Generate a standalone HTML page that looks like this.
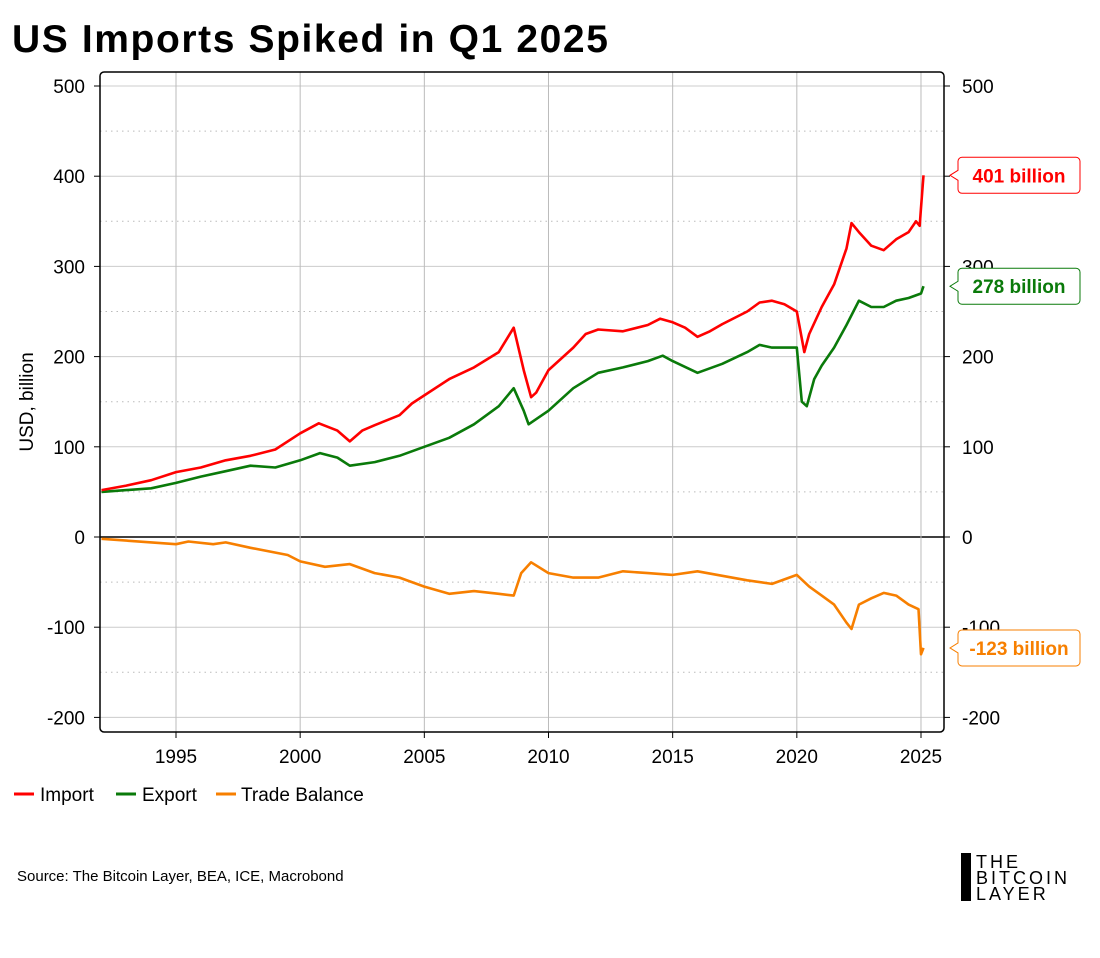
<!DOCTYPE html>
<html><head><meta charset="utf-8"><style>
body{margin:0;background:#fff;width:1100px;height:953px;overflow:hidden;font-family:"Liberation Sans",sans-serif}
svg text{font-family:"Liberation Sans",sans-serif}
</style></head><body>
<svg id="c" width="1100" height="953" xmlns="http://www.w3.org/2000/svg">
<text x="12" y="52" font-size="39" font-weight="bold" letter-spacing="1.6" fill="#000">US Imports Spiked in Q1 2025</text>
<g id="grid"></g>
<g id="series"></g>
<rect x="100" y="72" width="844" height="660" fill="none" stroke="#000" stroke-width="1.5" rx="4"/>
<g id="axes"></g>
<text transform="translate(33,402) rotate(-90)" text-anchor="middle" font-size="19" fill="#000">USD, billion</text>
<g font-size="19">
<g><line x1="14" y1="794" x2="34" y2="794" stroke="#f00" stroke-width="3"/><text x="40" y="801">Import</text></g>
<g><line x1="116" y1="794" x2="136" y2="794" stroke="#0a7a0a" stroke-width="3"/><text x="142" y="801">Export</text></g>
<g><line x1="216" y1="794" x2="236" y2="794" stroke="#f77f00" stroke-width="3"/><text x="241" y="801">Trade Balance</text></g>
</g>
<text x="17" y="881" font-size="15" fill="#000">Source: The Bitcoin Layer, BEA, ICE, Macrobond</text>
<g>
<rect x="961" y="853" width="10" height="48" fill="#000"/>
<text x="976" y="868" font-size="18" letter-spacing="3">THE</text>
<text x="976" y="884" font-size="18" letter-spacing="3">BITCOIN</text>
<text x="976" y="900" font-size="18" letter-spacing="3">LAYER</text>
</g>
</svg>
<script>
const impX=[1992,1993,1994,1995,1996,1997,1998,1999,2000,2000.75,2001.5,2002,2002.5,2003,2004,2004.5,2005,2006,2007,2008,2008.6,2009.0,2009.3,2009.5,2010,2011,2011.5,2012,2013,2014,2014.5,2015,2015.5,2016,2016.5,2017,2018,2018.5,2019,2019.5,2020.0,2020.3,2020.5,2021,2021.5,2022,2022.2,2022.5,2023,2023.5,2024,2024.5,2024.8,2024.95,2025.0,2025.1];
const impV=[52,57,63,72,77,85,90,97,115,126,118,106,118,124,135,148,157,175,188,205,232,185,155,160,185,210,225,230,228,235,242,238,232,222,228,236,250,260,262,258,250,205,225,255,280,320,348,338,323,318,330,338,350,345,365,401];
const expX=[1992,1994,1995,1996,1997,1998,1999,2000,2000.8,2001.5,2002,2003,2004,2005,2006,2007,2008,2008.6,2009.0,2009.2,2010,2011,2012,2013,2014,2014.6,2015,2016,2017,2018,2018.5,2019,2020,2020.2,2020.4,2020.7,2021,2021.5,2022,2022.5,2023,2023.5,2024,2024.5,2025.0,2025.1];
const expV=[50,54,60,67,73,79,77,85,93,88,79,83,90,100,110,125,145,165,140,125,140,165,182,188,195,201,195,182,192,205,213,210,210,150,145,175,190,210,235,262,255,255,262,265,270,278];
const balX=[1992,1995,1995.5,1996.5,1997,1998,1999.5,2000,2001,2002,2003,2004,2005,2006,2007,2008,2008.6,2008.9,2009.3,2010,2011,2012,2013,2014,2015,2016,2017,2018,2019,2020,2020.5,2021,2021.5,2022,2022.2,2022.5,2023,2023.5,2024,2024.5,2024.9,2025.0,2025.1];
const balV=[-2,-8,-5,-8,-6,-12,-20,-27,-33,-30,-40,-45,-55,-63,-60,-63,-65,-40,-28,-40,-45,-45,-38,-40,-42,-38,-43,-48,-52,-42,-55,-65,-75,-95,-102,-75,-68,-62,-65,-75,-80,-130,-123];
const yTicks=[500,400,300,200,100,0,-100,-200];
const xTicks=[1995,2000,2005,2010,2015,2020,2025];
const sx=t=>101.5+(t-1992)*24.833;
const sy=v=>537-v*0.902;
const NS="http://www.w3.org/2000/svg";
function mk(tag,attrs,parent,txt){const e=document.createElementNS(NS,tag);for(const k in attrs)e.setAttribute(k,attrs[k]);if(txt!==undefined)e.textContent=txt;parent.appendChild(e);return e;}
const grid=document.getElementById('grid'),axes=document.getElementById('axes'),ser=document.getElementById('series');
for(let v=-150;v<=450;v+=100){const l=mk('line',{x1:100,x2:944,y1:sy(v),y2:sy(v),stroke:'#bbb','stroke-dasharray':'1.5 4'},grid);

}
yTicks.forEach(v=>{const l=mk('line',{x1:100,x2:944,y1:sy(v),y2:sy(v),stroke:v===0?'#000':'#ccc','stroke-width':v===0?1.5:1},grid);


const a=mk('text',{x:85,y:sy(v)+7,'text-anchor':'end','font-size':19},axes,String(v));


const b=mk('text',{x:962,y:sy(v)+7,'font-size':19},axes,String(v));


mk('line',{x1:94,x2:100,y1:sy(v),y2:sy(v),stroke:'#000'},axes);
mk('line',{x1:944,x2:950,y1:sy(v),y2:sy(v),stroke:'#000'},axes);});
xTicks.forEach(t=>{const l=mk('line',{x1:sx(t),x2:sx(t),y1:72,y2:732,stroke:'#bbb'},grid);


mk('line',{x1:sx(t),x2:sx(t),y1:732,y2:738,stroke:'#000'},axes);
const a=mk('text',{x:sx(t),y:763,'text-anchor':'middle','font-size':19},axes,String(t));

});
function line(X,V,col,name){const d=X.map((t,i)=>(i?'L':'M')+sx(t).toFixed(1)+','+sy(V[i]).toFixed(1)).join('');
const p=mk('path',{d:d,fill:'none',stroke:col,'stroke-width':2.6,'stroke-linejoin':'round'},ser);

}
line(balX,balV,'#f77f00','trade-balance-line');
line(expX,expV,'#0a7a0a','export-line');
line(impX,impV,'#f00','import-line');
function callout(v,col,name){const y=sy(v);const g=mk('g',{},document.getElementById('c'));


mk('path',{d:`M962,${y-18}h114a4,4 0 0 1 4,4v28a4,4 0 0 1-4,4h-114a4,4 0 0 1-4,-4v-9l-8,-5l8,-5v-9a4,4 0 0 1 4,-4z`,fill:'#fff',stroke:col},g);
mk('text',{x:1019,y:y+7,'text-anchor':'middle','font-size':19,'font-weight':'bold',fill:col},g,Math.round(v)+' billion');}
callout(impV[impV.length-1],'#f00','import-last-value-label');
callout(expV[expV.length-1],'#0a7a0a','export-last-value-label');
callout(balV[balV.length-1],'#f77f00','trade-balance-last-value-label');
</script>
</body></html>
